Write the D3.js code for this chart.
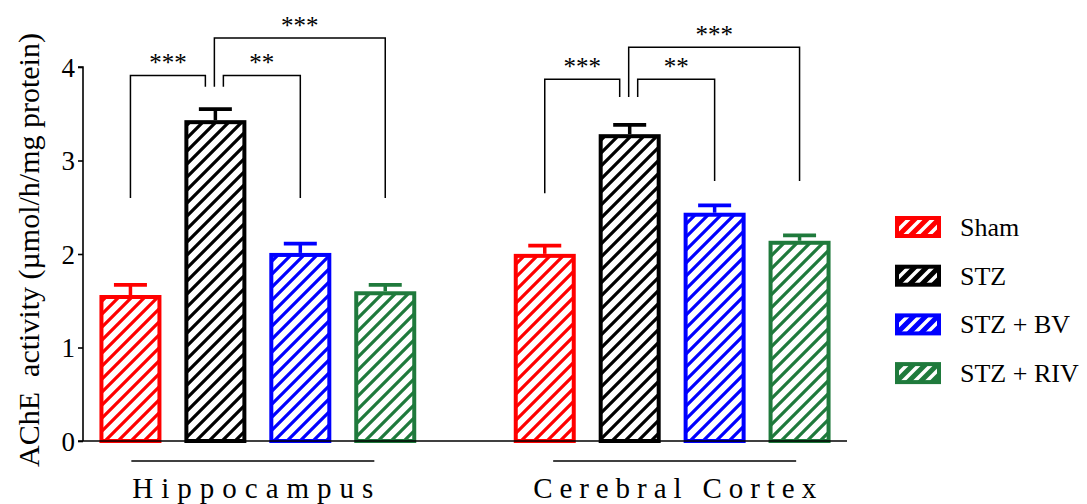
<!DOCTYPE html>
<html>
<head>
<meta charset="utf-8">
<script src="https://cdn.jsdelivr.net/npm/d3@7"></script>
<style>
  html, body { margin: 0; padding: 0; background: #fff; }
  svg { display: block; }
  svg text { font-family: "Liberation Serif", "DejaVu Serif", "Noto Serif", "Times New Roman", serif !important; fill: #000; }
</style>
</head>
<body>
<svg id="chart" width="1087" height="504"></svg>
<script>
// ---------- data ----------
const groups = ["Hippocampus", "Cerebral Cortex"];
const series = ["Sham", "STZ", "STZ + BV", "STZ + RIV"];
const colors = ["#ff0000", "#000000", "#0000ff", "#1f7a3c"];
const hippocampusMean = [1.54, 3.41, 1.99, 1.58];
const hippocampusSem  = [0.13, 0.14, 0.12, 0.09];
const cortexMean = [1.98, 3.26, 2.42, 2.12];
const cortexSem  = [0.11, 0.12, 0.10, 0.08];
const yTicks = [0, 1, 2, 3, 4];
const yLabel = "AChE  activity (\u00b5mol/h/mg protein)";
// significance comparisons: [seriesA, seriesB, top, endA, endB, label]
const hippocampusSig = [
  ["Sham", "STZ", 3.91, 2.60, 3.79, "***"],
  ["STZ", "STZ + BV", 3.91, 3.79, 2.60, "**"],
  ["STZ", "STZ + RIV", 4.31, 3.79, 2.60, "***"]
];
const cortexSig = [
  ["Sham", "STZ", 3.87, 2.65, 3.68, "***"],
  ["STZ", "STZ + BV", 3.87, 3.68, 2.78, "**"],
  ["STZ", "STZ + RIV", 4.21, 3.68, 2.78, "***"]
];

// ---------- build ----------
const means = [hippocampusMean, cortexMean];
const sems = [hippocampusSem, cortexSem];
const sigs = [hippocampusSig, cortexSig];
const rows = [];
groups.forEach((g, gi) => series.forEach((s, si) => rows.push({group: g, series: s, v: means[gi][si], e: sems[gi][si], color: colors[si], si})));

const svg = d3.select("#chart");
const font = '"Liberation Serif", "DejaVu Serif", "Noto Serif", "Times New Roman", serif';
svg.style("font-family", font);

const x0 = d3.scaleBand().domain(groups).range([83, 847]).paddingInner(0.18).paddingOuter(0.012);
const x1 = d3.scaleBand().domain(series).range([0, x0.bandwidth()]).paddingInner(0.27).paddingOuter(0.135);
const y = d3.scaleLinear().domain([0, 4]).range([441, 67]);
const cx = (g, s) => x0(g) + x1(s) + x1.bandwidth() / 2;

// patterns
const defs = svg.append("defs");
const P = 13;
colors.forEach((c, i) => {
  const p = defs.append("pattern").attr("id", "hatch" + i).attr("patternUnits", "userSpaceOnUse")
    .attr("width", P).attr("height", P);
  p.append("rect").attr("width", P).attr("height", P).attr("fill", "#fff");
  p.append("path").attr("d", `M-${P/4},${P/4} L${P/4},-${P/4} M0,${P} L${P},0 M${3*P/4},${5*P/4} L${5*P/4},${3*P/4}`)
    .attr("stroke", c).attr("stroke-width", 3.2);
  const lp = defs.append("pattern").attr("id", "lhatch" + i).attr("patternUnits", "userSpaceOnUse")
    .attr("width", 12).attr("height", 12);
  lp.append("rect").attr("width", 12).attr("height", 12).attr("fill", c);
  lp.append("path").attr("d", "M-3,3 L3,-3 M0,12 L12,0 M9,15 L15,9")
    .attr("stroke", "#fff").attr("stroke-width", 3.5);
});

// bars
const sw = 4;
svg.append("g").selectAll("rect").data(rows).join("rect")
  .attr("x", d => x0(d.group) + x1(d.series) + sw / 2)
  .attr("width", x1.bandwidth() - sw)
  .attr("y", d => y(d.v))
  .attr("height", d => y(0) - y(d.v))
  .attr("fill", d => `url(#hatch${d.si})`)
  .attr("stroke", d => d.color)
  .attr("stroke-width", sw);

// error bars
const eb = svg.append("g");
rows.forEach(d => {
  const c = cx(d.group, d.series);
  eb.append("line").attr("x1", c).attr("x2", c).attr("y1", y(d.v) - sw / 2).attr("y2", y(d.v + d.e))
    .attr("stroke", d.color).attr("stroke-width", 3.5);
  eb.append("line").attr("x1", c - 16.5).attr("x2", c + 16.5).attr("y1", y(d.v + d.e)).attr("y2", y(d.v + d.e))
    .attr("stroke", d.color).attr("stroke-width", 3.8);
});

// axes
const yAxis = d3.axisLeft(y).tickValues(yTicks).tickSize(5).tickPadding(3).tickFormat(d3.format("d"));
const ya = svg.append("g").attr("transform", "translate(83,0)").call(yAxis);
ya.attr("font-family", font);
ya.select(".domain").attr("stroke", "#000").attr("stroke-width", 1.6).attr("d", `M-5,${y(4)}H0V${y(0)}`);
ya.selectAll(".tick line").attr("stroke", "#000").attr("stroke-width", 1.6);
ya.selectAll(".tick text").attr("font-family", font).attr("font-size", 27).attr("fill", "#000").attr("dy", "0.34em");

svg.append("line").attr("x1", 78).attr("x2", 847).attr("y1", y(0)).attr("y2", y(0))
  .attr("stroke", "#000").attr("stroke-width", 1.6);

svg.append("text").attr("transform", `translate(39,${250}) rotate(-90)`)
  .attr("text-anchor", "middle").attr("font-size", 30).attr("font-family", font)
  .style("white-space", "pre").text(yLabel);

// group labels
const groupShift = [-5, 2.5];
groups.forEach((g, gi) => {
  const first = x0(g) + x1(series[0]) + x1.bandwidth() / 2;
  const last = x0(g) + x1(series[3]) + x1.bandwidth() / 2;
  const mid = (first + last) / 2 + groupShift[gi];
  svg.append("line").attr("x1", mid - 121.5).attr("x2", mid + 121.5).attr("y1", 461).attr("y2", 461)
    .attr("stroke", "#000").attr("stroke-width", 1.4);
  const len = gi === 0 ? 241 : 283;
  svg.append("text").attr("x", mid - len / 2).attr("y", 498).attr("font-size", 29).attr("font-family", font)
    .attr("textLength", len).attr("lengthAdjust", "spacing").text(g);
});

// significance brackets
const stzOff = [-10, 8, -1];
groups.forEach((g, gi) => {
  sigs[gi].forEach((b, bi) => {
    const [a, bb, top, ea, ebv, label] = b;
    let xa = cx(g, a), xb = cx(g, bb);
    if (a === "STZ") xa += stzOff[bi]; if (bb === "STZ") xb += stzOff[bi];
    svg.append("path").attr("d", `M${xa},${y(ea)}V${y(top)}H${xb}V${y(ebv)}`)
      .attr("fill", "none").attr("stroke", "#000").attr("stroke-width", 1.5);
    svg.append("text").attr("x", (xa + xb) / 2).attr("y", y(top) - 4).attr("text-anchor", "middle")
      .attr("font-size", 25).attr("font-family", font).text(label);
  });
});

// legend
const lg = svg.append("g");
series.forEach((s, i) => {
  const cy = 227 + i * 48.7;
  lg.append("rect").attr("x", 897).attr("y", cy - 9).attr("width", 42).attr("height", 18)
    .attr("fill", `url(#lhatch${i})`).attr("stroke", colors[i]).attr("stroke-width", 4);
  lg.append("text").attr("x", 960).attr("y", cy + 9).attr("font-size", 26).attr("font-family", font).text(s);
});
</script>
</body>
</html>
